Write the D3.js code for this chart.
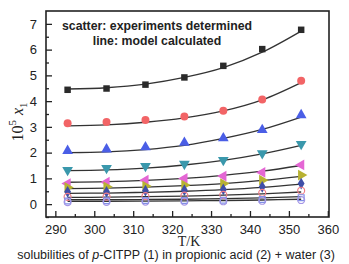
<!DOCTYPE html>
<html>
<head>
<meta charset="utf-8">
<script src="https://cdn.jsdelivr.net/npm/d3@7"></script>
<style>
  body { margin: 0; background: #fff; }
  svg { display: block; }
  .axis text { font-family: "Liberation Sans", Arial, sans-serif; font-size: 13px; fill: #222; }
  .axis line { stroke: #222; stroke-width: 1.3; }
  .axis path { display: none; }
</style>
</head>
<body>
<div id="chart"></div>
<script>
// temperatures (K)
const temps = [293.15, 303.15, 313.15, 323.15, 333.15, 343.15, 353.15];

// experimental points, 10^5 x1
const expBlack   = [4.44, 4.49, 4.64, 4.92, 5.37, 6.02, 6.77];
const expRed     = [3.14, 3.19, 3.27, 3.40, 3.63, 4.06, 4.79];
const expBlue    = [2.07, 2.13, 2.21, 2.39, 2.56, 2.88, 3.46];
const expTeal    = [1.32, 1.40, 1.48, 1.56, 1.71, 1.97, 2.33];
const expMagenta = [0.80, 0.85, 0.93, 1.00, 1.09, 1.23, 1.52];
const expOlive   = [0.65, 0.67, 0.70, 0.74, 0.80, 0.93, 1.13];
const expNavy    = [0.48, 0.48, 0.52, 0.54, 0.57, 0.67, 0.80];
const expPink    = [0.28, 0.29, 0.31, 0.33, 0.36, 0.44, 0.52];
const expSquare  = [0.12, 0.13, 0.14, 0.14, 0.15, 0.18, 0.25];
const expLavender= [0.08, 0.09, 0.10, 0.10, 0.11, 0.13, 0.16];

// model calculated lines, 10^5 x1
const modBlack   = [4.47, 4.52, 4.66, 4.92, 5.30, 5.90, 6.72];
const modRed     = [3.04, 3.08, 3.18, 3.35, 3.62, 4.05, 4.72];
const modBlue    = [2.00, 2.03, 2.12, 2.28, 2.55, 2.90, 3.38];
const modTeal    = [1.30, 1.33, 1.40, 1.52, 1.70, 1.95, 2.28];
const modMagenta = [0.85, 0.87, 0.92, 1.00, 1.12, 1.28, 1.50];
const modOlive   = [0.60, 0.62, 0.66, 0.72, 0.80, 0.92, 1.08];
const modNavy    = [0.42, 0.43, 0.46, 0.50, 0.56, 0.65, 0.78];
const modPink    = [0.26, 0.27, 0.29, 0.31, 0.35, 0.40, 0.47];
const modSquare  = [0.17, 0.17, 0.18, 0.19, 0.21, 0.24, 0.29];
const modLavender= [0.11, 0.11, 0.12, 0.13, 0.14, 0.16, 0.19];

const xTicks = [290, 300, 310, 320, 330, 340, 350, 360];
const yTicks = [0, 1, 2, 3, 4, 5, 6, 7];

const series = [
  { exp: expBlack,    mod: modBlack,    shape: d3.symbolSquare,   rot: 0,   fill: "#2a2a2a", stroke: "none",    size: 42 },
  { exp: expRed,      mod: modRed,      shape: d3.symbolCircle,   rot: 0,   fill: "#f26466", stroke: "none",    size: 50 },
  { exp: expBlue,     mod: modBlue,     shape: d3.symbolTriangle, rot: 0,   fill: "#4a5ee6", stroke: "none",    size: 50 },
  { exp: expTeal,     mod: modTeal,     shape: d3.symbolTriangle, rot: 180, fill: "#3a98ac", stroke: "none",    size: 50 },
  { exp: expMagenta,  mod: modMagenta,  shape: d3.symbolTriangle, rot: -90, fill: "#e466d4", stroke: "none",    size: 50 },
  { exp: expOlive,    mod: modOlive,    shape: d3.symbolTriangle, rot: 90,  fill: "#b8b232", stroke: "none",    size: 50 },
  { exp: expNavy,     mod: modNavy,     shape: d3.symbolDiamond,  rot: 0,   fill: "#3f4fa8", stroke: "none",    size: 40 },
  { exp: expPink,     mod: modPink,     shape: d3.symbolCircle,   rot: 0,   fill: "none",    stroke: "#f07c86", size: 38 },
  { exp: expSquare,   mod: modSquare,   shape: d3.symbolSquare,   rot: 0,   fill: "none",    stroke: "#7f8fe6", size: 34 },
  { exp: expLavender, mod: modLavender, shape: d3.symbolCircle,   rot: 0,   fill: "none",    stroke: "#a596e6", size: 38 }
];

const W = 349, H = 264;
const margin = { top: 11, right: 20, bottom: 47, left: 46 };

const svg = d3.select("#chart").append("svg")
  .attr("width", W)
  .attr("height", H);

const x = d3.scaleLinear().domain([287.6, 360.3]).range([margin.left, W - margin.right]);
const y = d3.scaleLinear().domain([-0.5, 7.5]).range([H - margin.bottom, margin.top]);

// lines
const line = d3.line()
  .x((d, i) => x(temps[i]))
  .y(d => y(d))
  .curve(d3.curveCatmullRom.alpha(0.5));

svg.append("g")
  .selectAll("path")
  .data(series)
  .enter()
  .append("path")
  .attr("d", d => line(d.mod))
  .attr("fill", "none")
  .attr("stroke", "#333")
  .attr("stroke-width", 1.3);

// markers
series.forEach(s => {
  const sym = d3.symbol().type(s.shape).size(s.size);
  svg.append("g")
    .selectAll("path")
    .data(s.exp)
    .enter()
    .append("path")
    .attr("d", sym)
    .attr("transform", (d, i) => `translate(${x(temps[i])},${y(d)}) rotate(${s.rot})`)
    .attr("fill", s.fill)
    .attr("stroke", s.stroke)
    .attr("stroke-width", 1.2);
});

// axes (ticks pointing inward)
const bottom = H - margin.bottom;
svg.append("g")
  .attr("class", "axis")
  .attr("transform", `translate(0,${bottom})`)
  .call(d3.axisBottom(x).tickValues(xTicks).tickSizeInner(-6).tickSizeOuter(0).tickPadding(8).tickFormat(d3.format("d")));

svg.append("g")
  .attr("class", "axis")
  .attr("transform", `translate(0,${bottom})`)
  .call(d3.axisBottom(x).tickValues([295, 305, 315, 325, 335, 345, 355]).tickSizeInner(-3).tickSizeOuter(0).tickFormat(""));

svg.append("g")
  .attr("class", "axis")
  .attr("transform", `translate(${margin.left},0)`)
  .call(d3.axisLeft(y).tickValues(yTicks).tickSizeInner(-6).tickSizeOuter(0).tickPadding(9).tickFormat(d3.format("d")));

svg.append("g")
  .attr("class", "axis")
  .attr("transform", `translate(${margin.left},0)`)
  .call(d3.axisLeft(y).tickValues([-0.5, 0.5, 1.5, 2.5, 3.5, 4.5, 5.5, 6.5]).tickSizeInner(-3).tickSizeOuter(0).tickFormat(""));

// frame
svg.append("rect")
  .attr("x", margin.left)
  .attr("y", margin.top)
  .attr("width", W - margin.left - margin.right)
  .attr("height", H - margin.top - margin.bottom)
  .attr("fill", "none")
  .attr("stroke", "#222")
  .attr("stroke-width", 1.6);

// note inside plot
const note = svg.append("g")
  .attr("font-family", "'Liberation Sans', Arial, sans-serif")
  .attr("font-weight", "bold")
  .attr("font-size", "12.3px")
  .attr("fill", "#222")
  .attr("text-anchor", "middle");
note.append("text").attr("x", 157).attr("y", 30).text("scatter: experiments determined");
note.append("text").attr("x", 157).attr("y", 45).text("line: model calculated");

// x title
svg.append("text")
  .attr("x", 189)
  .attr("y", 246)
  .attr("text-anchor", "middle")
  .attr("font-family", "'Liberation Serif', 'Times New Roman', serif")
  .attr("font-size", "14px")
  .attr("fill", "#222")
  .text("T/K");

// y title: 10^5 x_1
const yt = svg.append("text")
  .attr("transform", "translate(23,122) rotate(-90)")
  .attr("text-anchor", "middle")
  .attr("font-family", "'Liberation Serif', 'Times New Roman', serif")
  .attr("font-size", "16px")
  .attr("fill", "#222");
yt.append("tspan").text("10");
yt.append("tspan").attr("dy", -7).attr("font-size", "11px").text("5");
yt.append("tspan").attr("dy", 7).attr("dx", 5).attr("font-style", "italic").text("x");
yt.append("tspan").attr("dy", 4).attr("font-size", "11px").text("1");

// caption
const cap = svg.append("text")
  .attr("x", 176)
  .attr("y", 259)
  .attr("text-anchor", "middle")
  .attr("font-family", "'Liberation Sans', Arial, sans-serif")
  .attr("font-size", "12.5px")
  .attr("fill", "#222");
cap.append("tspan").text("solubilities of ");
cap.append("tspan").attr("font-style", "italic").text("p");
cap.append("tspan").text("-CITPP (1) in propionic acid (2) + water (3)");
</script>
</body>
</html>
